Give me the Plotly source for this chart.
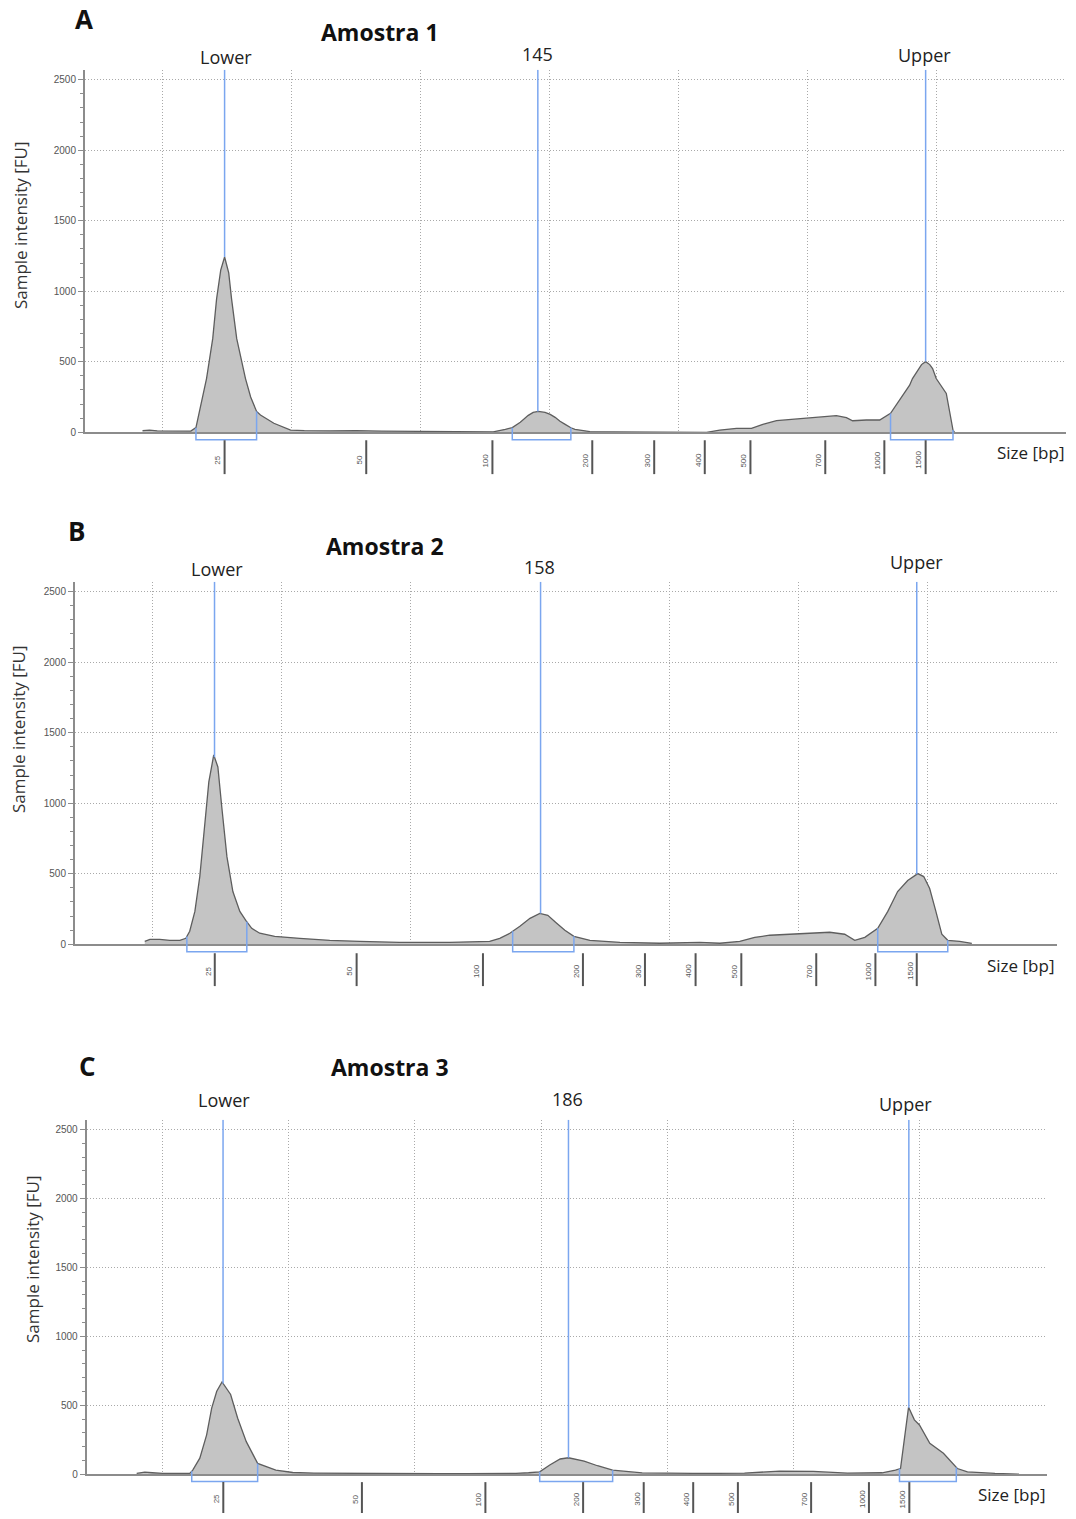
import numpy as np
import plotly.graph_objects as go

W, H = 1076, 1519

# ---------------- data ----------------
ladder_bp = ["25", "50", "100", "200", "300", "400", "500", "700", "1000", "1500"]
ladder_t = [47.41, 52.90, 57.79, 61.66, 64.06, 66.02, 67.79, 70.69, 72.98, 74.58]

panel_letters = ["A", "B", "C"]
sample_names = ["Amostra 1", "Amostra 2", "Amostra 3"]
sample_peak_labels = ["145", "158", "186"]
lower_t = [47.41, 47.40, 47.40]
sample_t = [59.55, 60.02, 61.08]
upper_t = [74.58, 74.58, 74.56]

a_t = [44.23, 44.50, 44.80, 45.20, 45.60, 46.10, 46.30, 46.40, 46.55, 46.71, 46.95, 47.10, 47.26,
       47.41, 47.57, 47.68, 47.88, 48.03, 48.22, 48.42, 48.65, 48.80, 49.32, 49.97, 50.50, 51.50,
       52.50, 53.50, 54.50, 55.50, 56.50, 57.50, 57.82, 58.29, 58.56, 58.87, 59.18, 59.37, 59.57,
       59.83, 60.03, 60.22, 60.41, 60.61, 60.83, 60.99, 61.57, 62.50, 63.50, 64.50, 65.50, 66.09,
       66.60, 67.25, 67.83, 68.27, 68.80, 69.44, 70.09, 71.12, 71.51, 71.75, 72.28, 72.80, 73.22,
       73.57, 73.96, 74.07, 74.27, 74.42, 74.58, 74.74, 74.85, 74.99, 75.38, 75.51, 75.64, 75.70]
a_fu = [12, 16, 10, 8, 9, 8, 33, 122, 240, 381, 664, 946, 1150,
        1243, 1130, 946, 664, 530, 381, 250, 148, 122, 64, 16, 12, 10,
        12, 8, 6, 6, 5, 4, 3, 21, 33, 71, 120, 141, 148,
        141, 127, 106, 78, 56, 32, 21, 5, 2, 2, 2, 1, 0,
        16, 28, 28, 56, 82, 92, 106, 118, 104, 82, 87, 87, 134,
        228, 334, 381, 438, 480, 501, 480, 452, 381, 275, 146, 16, 0]

b_t = [44.70, 44.90, 45.28, 45.67, 46.06, 46.29, 46.44, 46.64, 46.83, 47.02, 47.18, 47.37, 47.53,
       47.68, 47.88, 48.11, 48.38, 48.61, 48.84, 49.15, 49.73, 50.70, 51.86, 53.02, 54.56, 56.51,
       58.05, 58.44, 58.83, 59.22, 59.61, 59.99, 60.30, 60.61, 60.96, 61.31, 61.93, 63.09, 64.63,
       66.18, 66.96, 67.73, 68.31, 68.89, 69.66, 70.44, 71.21, 71.79, 72.18, 72.57, 73.07, 73.46,
       73.84, 74.23, 74.62, 74.85, 75.08, 75.32, 75.55, 75.78, 76.24, 76.71]
b_fu = [21, 35, 35, 28, 28, 42, 92, 233, 480, 833, 1151, 1342, 1257,
        975, 621, 374, 233, 170, 113, 78, 56, 42, 28, 21, 14, 14,
        21, 42, 78, 127, 184, 219, 205, 155, 99, 56, 28, 14, 7,
        14, 7, 21, 49, 64, 71, 78, 85, 71, 28, 49, 113, 233,
        374, 452, 501, 480, 395, 233, 71, 28, 21, 7]

c_t = [43.98, 44.30, 44.60, 45.00, 45.50, 46.08, 46.20, 46.48, 46.75, 46.95, 47.15, 47.36, 47.70,
       47.98, 48.32, 48.77, 49.49, 50.16, 51.00, 52.00, 53.00, 54.00, 55.00, 56.00, 57.00, 58.00,
       59.00, 59.50, 59.94, 60.34, 60.75, 61.08, 61.70, 62.23, 62.83, 64.00, 65.00, 66.00, 67.00,
       68.05, 69.44, 70.78, 72.13, 73.50, 74.03, 74.23, 74.37, 74.55, 74.78, 74.98, 75.39, 75.93,
       76.48, 76.88, 77.97, 78.92]
c_fu = [5, 15, 10, 5, 5, 6, 29, 116, 285, 479, 601, 669, 578,
        406, 236, 78, 29, 12, 8, 6, 4, 3, 3, 3, 3, 3,
        5, 10, 17, 66, 110, 119, 95, 61, 29, 9, 5, 6, 6,
        8, 22, 20, 7, 10, 29, 41, 236, 486, 394, 357, 224, 152,
        41, 17, 5, 0]

a_brackets = [(46.30, 48.65), (58.56, 60.83), (73.22, 75.64)]
b_brackets = [(46.33, 48.65), (58.94, 61.31), (73.07, 75.78)]
c_brackets = [(46.16, 48.77), (59.94, 62.83), (74.19, 76.44)]

curves = [(a_t, a_fu), (b_t, b_fu), (c_t, c_fu)]
brackets = [a_brackets, b_brackets, c_brackets]

# ---------------- layout geometry (pixels) ----------------
X_RANGE = [42, 80.02]
Y_MAX = 2570
panels = [
    dict(x0=85, x1=1066, axis=434, scale=0.1416,
         letter=(84, 19), title=(380, 32), ytitle=(20, 226), size=(1030, 454),
         mk=[(226, 57), (537, 54), (924, 55)], lad_lab=462, bar=(442, 476)),
    dict(x0=75, x1=1057.3, axis=948, scale=0.1416,
         letter=(76, 533), title=(385, 548), ytitle=(18, 732), size=(1020, 969),
         mk=[(217, 571), (539, 569), (916, 564)], lad_lab=975, bar=(957, 990)),
    dict(x0=86.7, x1=1046.7, axis=1480, scale=0.1384,
         letter=(87, 1070), title=(390, 1071), ytitle=(32, 1264), size=(1011, 1500),
         mk=[(224, 1104), (567, 1103), (905, 1108)], lad_lab=1505, bar=(1488, 1519)),
]


def px_x(p):
    return p / W


def px_y(p):
    return 1 - p / H


BLUE = "#7ba6ef"
GRID = "#a9a9a9"
AX = "#8c8c8c"
FONT = "Open Sans"
DOT = "1px,2px"

fig = go.Figure()
shapes = []
annotations = []
layout_axes = {}


def text_ann(x, y, text, size, color, angle=0, family=FONT):
    return dict(x=px_x(x), y=px_y(y), xref="paper", yref="paper", text=text,
                showarrow=False, textangle=angle, xanchor="center", yanchor="middle",
                font=dict(family=family, size=size, color=color))


for i, (pan, (tt, ff)) in enumerate(zip(panels, curves)):
    n = "" if i == 0 else str(i + 1)
    xa, ya = "x" + n, "y" + n
    ytop = pan["axis"] - Y_MAX * pan["scale"]

    fig.add_trace(go.Scatter(
        x=tt, y=ff, xaxis=xa, yaxis=ya, mode="lines", fill="tozeroy",
        fillcolor="#c4c4c4", line=dict(color="#5e5e5e", width=1.3),
        hoverinfo="skip", showlegend=False))

    layout_axes["xaxis" + n] = dict(
        domain=[px_x(pan["x0"]), px_x(pan["x1"])], range=X_RANGE, anchor=ya,
        showgrid=True, gridcolor=GRID, griddash=DOT, gridwidth=1,
        tick0=45, dtick=5, showticklabels=False, ticks="",
        showline=True, linecolor=AX, linewidth=1.5, zeroline=False, fixedrange=True)
    layout_axes["yaxis" + n] = dict(
        domain=[px_y(pan["axis"]), px_y(ytop)], range=[0, Y_MAX], anchor=xa,
        tickvals=[0, 500, 1000, 1500, 2000, 2500],
        showgrid=True, gridcolor=GRID, griddash=DOT, gridwidth=1,
        ticks="outside", ticklen=5, tickcolor=AX, tickwidth=1,
        minor=dict(dtick=100, ticks="outside", ticklen=3, tickcolor=AX, showgrid=False),
        showline=True, linecolor=AX, linewidth=2, zeroline=False,
        tickfont=dict(family="Liberation Sans", size=10, color="#555"), fixedrange=True)

    def val_px(v):
        return pan["axis"] - v * pan["scale"]

    # marker lines (Lower / sample / Upper)
    for mt in (lower_t[i], sample_t[i], upper_t[i]):
        peak = float(np.interp(mt, tt, ff))
        shapes.append(dict(type="line", xref=xa, yref=ya, x0=mt, x1=mt, y0=peak, y1=Y_MAX,
                           line=dict(color=BLUE, width=1.5), layer="above"))

    # integration brackets
    yb = px_y(pan["axis"] + 7.5)
    for (s, e) in brackets[i]:
        ys = px_y(val_px(float(np.interp(s, tt, ff))))
        ye = px_y(val_px(float(np.interp(e, tt, ff))))
        shapes.append(dict(type="path", xref=xa, yref="paper",
                           path=f"M {s},{ys} L {s},{yb} L {e},{yb} L {e},{ye}",
                           line=dict(color=BLUE, width=1.5), layer="above"))

    # ladder size ticks
    for lt, lb in zip(ladder_t, ladder_bp):
        shapes.append(dict(type="line", xref=xa, yref="paper", x0=lt, x1=lt,
                           y0=px_y(pan["bar"][0]), y1=px_y(pan["bar"][1]),
                           line=dict(color="#555", width=2)))
        annotations.append(dict(x=lt, xref=xa, y=px_y(pan["lad_lab"]), yref="paper",
                                text=lb, showarrow=False, textangle=-90, xshift=-7,
                                xanchor="center", yanchor="middle",
                                font=dict(family="Liberation Sans", size=8, color="#555")))

    # texts
    annotations.append(text_ann(*pan["letter"], "<b>" + panel_letters[i] + "</b>", 26, "#111"))
    annotations.append(text_ann(*pan["title"], "<b>" + sample_names[i] + "</b>", 23, "#111"))
    annotations.append(text_ann(*pan["ytitle"], "Sample intensity [FU]", 17, "#333", angle=-90))
    annotations.append(text_ann(*pan["size"], "Size [bp]", 17, "#222"))
    for (mx, my), lab in zip(pan["mk"], ["Lower", sample_peak_labels[i], "Upper"]):
        annotations.append(text_ann(mx, my, lab, 18, "#222"))

fig.update_layout(
    width=W, height=H, autosize=False,
    margin=dict(l=0, r=0, t=0, b=0, pad=0),
    paper_bgcolor="white", plot_bgcolor="white",
    showlegend=False, shapes=shapes, annotations=annotations,
    **layout_axes)

fig.write_html("out.html", config={"displayModeBar": False},
               post_script="document.body.style.margin='0px';document.body.style.padding='0px';")
